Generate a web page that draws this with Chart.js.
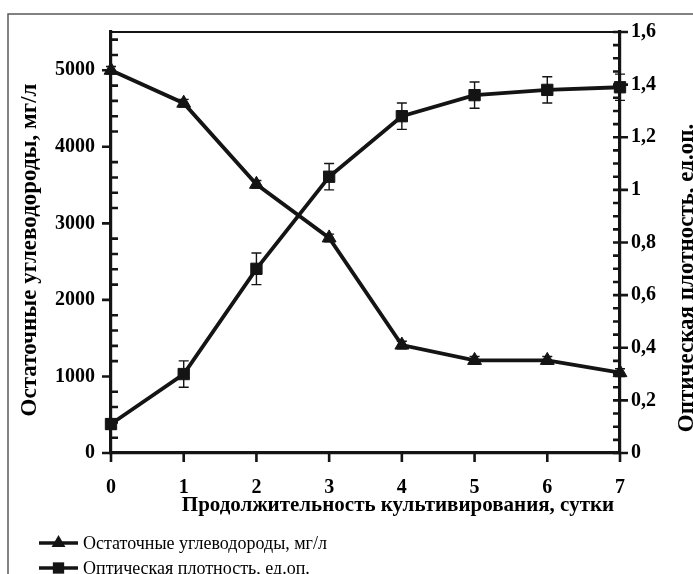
<!DOCTYPE html>
<html><head><meta charset="utf-8">
<script src="https://cdn.jsdelivr.net/npm/chart.js@4.4.1/dist/chart.umd.min.js"></script>
<style>html,body{margin:0;padding:0;background:#fff;overflow:hidden}canvas{display:block}</style>
</head><body>
<canvas id="c" width="693" height="574"></canvas>
<script>
// ---- data ----
const days = [0, 1, 2, 3, 4, 5, 6, 7];
const hydrocarbons = [5000, 4570, 3510, 2810, 1410, 1210, 1210, 1050];
const hydrocarbonsErr = [50, 50, 50, 50, 50, 50, 50, 50];
const opticalDensity = [0.11, 0.30, 0.70, 1.05, 1.28, 1.36, 1.38, 1.39];
const opticalDensityErr = [0.02, 0.05, 0.06, 0.05, 0.05, 0.05, 0.05, 0.05];
const seriesLabels = ['Остаточные углеводороды, мг/л', 'Оптическая плотность, ед.оп.'];
const xTicks = [0, 1, 2, 3, 4, 5, 6, 7];
const xTickLabels = ['0', '1', '2', '3', '4', '5', '6', '7'];
const leftTicks = [0, 1000, 2000, 3000, 4000, 5000];
const leftTickLabels = ['0', '1000', '2000', '3000', '4000', '5000'];
const leftMinorStep = 200;
const rightTicks = [0, 0.2, 0.4, 0.6, 0.8, 1, 1.2, 1.4, 1.6];
const rightTickLabels = ['0', '0,2', '0,4', '0,6', '0,8', '1', '1,2', '1,4', '1,6'];
const rightMinorStep = 0.05;
const xTitle = 'Продолжительность культивирования, сутки';
const leftTitle = 'Остаточные углеводороды, мг/л';
const rightTitle = 'Оптическая плотность, ед.оп.';

const INK = '#141414';
const SERIF = '"Liberation Serif", "Times New Roman", serif';
const pointStyles = ['triangle', 'rect'];

function drawMarker(ctx, style, x, y, r) {
  ctx.beginPath();
  if (style === 'triangle') {
    ctx.moveTo(x, y - r);
    ctx.lineTo(x + r * 0.866, y + r * 0.5);
    ctx.lineTo(x - r * 0.866, y + r * 0.5);
    ctx.closePath();
  } else {
    const s = r * Math.SQRT1_2;
    ctx.rect(x - s, y - s, 2 * s, 2 * s);
  }
  ctx.fill();
}

const decor = {
  id: 'decor',
  beforeDraw(chart) {
    const ctx = chart.ctx;
    ctx.save();
    ctx.fillStyle = '#fff';
    ctx.fillRect(0, 0, chart.width, chart.height);
    ctx.strokeStyle = '#5a5a5a';
    ctx.lineWidth = 1.5;
    ctx.strokeRect(8, 14, 760, 640);
    ctx.restore();
  },
  beforeDatasetsDraw(chart) {
    const ctx = chart.ctx;
    const xs = chart.scales.x;
    ctx.save();
    ctx.strokeStyle = INK;
    ctx.lineWidth = 1.4;
    chart.data.datasets.forEach(ds => {
      const ys = chart.scales[ds.yAxisID];
      ds.data.forEach((p, j) => {
        const e = ds.errors[j];
        const x = xs.getPixelForValue(p.x);
        const y1 = ys.getPixelForValue(p.y + e);
        const y2 = ys.getPixelForValue(p.y - e);
        ctx.beginPath();
        ctx.moveTo(x, y1); ctx.lineTo(x, y2);
        ctx.moveTo(x - 5, y1); ctx.lineTo(x + 5, y1);
        ctx.moveTo(x - 5, y2); ctx.lineTo(x + 5, y2);
        ctx.stroke();
      });
    });
    ctx.restore();
  },
  afterDraw(chart) {
    const ctx = chart.ctx;
    const a = chart.chartArea;
    const xs = chart.scales.x, yl = chart.scales.y, yr = chart.scales.y1;
    ctx.save();
    ctx.strokeStyle = INK;
    // top border
    ctx.lineWidth = 2.2;
    ctx.beginPath(); ctx.moveTo(a.left - 1, a.top); ctx.lineTo(a.right + 1, a.top); ctx.stroke();
    ctx.lineWidth = 2.6;
    ctx.beginPath();
    // left axis ticks
    leftTicks.forEach(v => { const y = yl.getPixelForValue(v); ctx.moveTo(a.left - 9, y); ctx.lineTo(a.left, y); });
    for (let v = leftMinorStep; v < yl.max; v += leftMinorStep) {
      if (v % 1000 === 0) continue;
      const y = yl.getPixelForValue(v); ctx.moveTo(a.left, y); ctx.lineTo(a.left + 7, y);
    }
    // right axis ticks
    rightTicks.forEach(v => { const y = yr.getPixelForValue(v); ctx.moveTo(a.right - 7, y); ctx.lineTo(a.right + 8, y); });
    for (let k = 1; k * rightMinorStep < yr.max - 1e-9; k++) {
      if (k % 4 === 0) continue;
      const y = yr.getPixelForValue(k * rightMinorStep); ctx.moveTo(a.right - 7, y); ctx.lineTo(a.right, y);
    }
    // x ticks
    xTicks.forEach(v => { const x = xs.getPixelForValue(v); ctx.moveTo(x, a.bottom); ctx.lineTo(x, a.bottom + 9); });
    ctx.stroke();

    // titles
    ctx.fillStyle = '#000';
    ctx.textAlign = 'center';
    ctx.textBaseline = 'middle';
    ctx.font = 'bold 21px ' + SERIF;
    ctx.fillText(xTitle, 398, 506);
    ctx.font = 'bold 23px ' + SERIF;
    ctx.save(); ctx.translate(30, 250); ctx.rotate(-Math.PI / 2); ctx.fillText(leftTitle, 0, 0); ctx.restore();
    ctx.save(); ctx.translate(687, 278); ctx.rotate(-Math.PI / 2); ctx.fillText(rightTitle, 0, 0); ctx.restore();

    // legend
    ctx.font = '18px ' + SERIF;
    ctx.textAlign = 'left';
    chart.data.datasets.forEach((ds, i) => {
      const y = 543 + i * 25;
      ctx.strokeStyle = INK; ctx.fillStyle = INK; ctx.lineWidth = 3.5;
      ctx.beginPath(); ctx.moveTo(39, y); ctx.lineTo(78, y); ctx.stroke();
      drawMarker(ctx, pointStyles[i], 58.5, y, 8);
      ctx.fillStyle = '#000';
      ctx.fillText(ds.label, 83, y + 1);
    });
    ctx.restore();
  }
};

const tickFont = { family: SERIF, size: 20, weight: 'bold' };

new Chart(document.getElementById('c'), {
  type: 'line',
  data: {
    datasets: [
      {
        label: seriesLabels[0], yAxisID: 'y', errors: hydrocarbonsErr,
        data: days.map((d, i) => ({ x: d, y: hydrocarbons[i] })),
        borderColor: INK, backgroundColor: INK, borderWidth: 3.8, tension: 0,
        pointStyle: pointStyles[0], pointRadius: 8, pointBorderWidth: 1,
        pointBackgroundColor: INK, pointBorderColor: INK, clip: false
      },
      {
        label: seriesLabels[1], yAxisID: 'y1', errors: opticalDensityErr,
        data: days.map((d, i) => ({ x: d, y: opticalDensity[i] })),
        borderColor: INK, backgroundColor: INK, borderWidth: 3.8, tension: 0,
        pointStyle: pointStyles[1], pointRadius: 8, pointBorderWidth: 1,
        pointBackgroundColor: INK, pointBorderColor: INK, clip: false
      }
    ]
  },
  options: {
    responsive: false, animation: false, devicePixelRatio: 1,
    layout: { padding: { top: 32, left: 0, right: 0, bottom: 0 } },
    plugins: { legend: { display: false }, tooltip: { enabled: false } },
    scales: {
      x: {
        type: 'linear', min: 0, max: 7, position: 'bottom',
        afterBuildTicks: s => { s.ticks = xTicks.map(v => ({ value: v })); },
        afterFit: s => { s.height = 121; },
        grid: { display: false, drawTicks: false },
        border: { display: true, color: INK, width: 3.2 },
        ticks: { padding: 23, color: '#000', font: tickFont, maxRotation: 0, autoSkip: false,
                 callback: (v, i) => xTickLabels[i] }
      },
      y: {
        position: 'left', min: 0, max: 5500,
        afterBuildTicks: s => { s.ticks = leftTicks.map(v => ({ value: v })); },
        afterFit: s => { s.width = 111; },
        grid: { display: false, drawTicks: false },
        border: { display: true, color: INK, width: 3.2 },
        ticks: { padding: 16, color: '#000', font: tickFont, autoSkip: false,
                 callback: (v, i) => leftTickLabels[i] }
      },
      y1: {
        position: 'right', min: 0, max: 1.6,
        afterBuildTicks: s => { s.ticks = rightTicks.map(v => ({ value: v })); },
        afterFit: s => { s.width = 73; },
        grid: { display: false, drawTicks: false },
        border: { display: true, color: INK, width: 3.2 },
        ticks: { padding: 11, color: '#000', font: tickFont, autoSkip: false,
                 callback: (v, i) => rightTickLabels[i] }
      }
    }
  },
  plugins: [decor]
});
</script>
</body></html>
